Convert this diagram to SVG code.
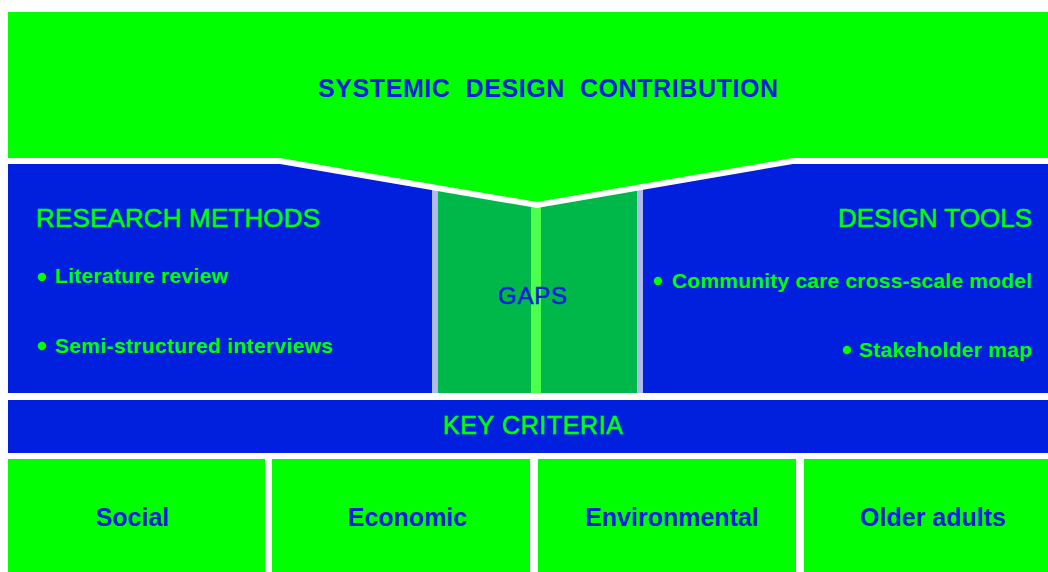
<svg xmlns="http://www.w3.org/2000/svg" width="1048" height="572" viewBox="0 0 1048 572">
  <style>
    .g { fill: #00ff00; }
    .b { fill: #0020dd; }
    .gap { fill: #00b84a; }
    .lav { fill: #b0b8f0; }
    .strip { fill: #4cff4c; }
    .dot { fill: #00ff00; }
    text { font-family: "Liberation Sans", Arial, sans-serif; }
    .tb { fill: #0a22d8; font-weight: bold; }
    .tg { fill: #00ff00; }
    .med { stroke-width: 0.5; }
    .tg.med { stroke: #00ff00; }
    .h { font-size: 26px; }
    .li { font-size: 21px; font-weight: bold; }
  </style>
  <rect x="0" y="0" width="1048" height="572" fill="#ffffff"/>

  <g id="middle-band">
    <rect class="b" x="8" y="158" width="424" height="235"/>
    <rect class="b" x="643" y="158" width="405" height="235"/>
  </g>

  <g id="gaps">
    <rect class="lav" x="432" y="170" width="6" height="223"/>
    <rect class="gap" x="438" y="170" width="93" height="223"/>
    <rect class="strip" x="531" y="195" width="10" height="198"/>
    <rect class="gap" x="541" y="170" width="96" height="223"/>
    <rect class="lav" x="637" y="170" width="6" height="223"/>
    <text x="532.5" y="304" font-size="24" text-anchor="middle" fill="#0a22d8" stroke="#0a22d8" stroke-width="0.6" textLength="69" lengthAdjust="spacing">GAPS</text>
  </g>

  <g id="contribution">
    <polygon fill="#ffffff" points="8,18 1048,18 1048,164 793,164 537,208 280,164 8,164"/>
    <polygon class="g" points="8,12 1048,12 1048,158 793,158 537,202 280,158 8,158"/>
    <text class="tb" x="548" y="97" font-size="25" text-anchor="middle" xml:space="preserve" style="white-space:pre" textLength="460" lengthAdjust="spacing">SYSTEMIC  DESIGN  CONTRIBUTION</text>
  </g>

  <g id="research-methods">
    <text class="tg h med" x="36" y="227" textLength="284" lengthAdjust="spacing">RESEARCH METHODS</text>
    <circle class="dot" cx="42" cy="277" r="4.2"/>
    <text class="tg li" x="55" y="283" textLength="173" lengthAdjust="spacing">Literature review</text>
    <circle class="dot" cx="42" cy="346" r="4.2"/>
    <text class="tg li" x="55" y="353" textLength="278" lengthAdjust="spacing">Semi-structured interviews</text>
  </g>

  <g id="design-tools">
    <text class="tg h med" x="1032" y="227" text-anchor="end">DESIGN TOOLS</text>
    <circle class="dot" cx="658" cy="281" r="4.2"/>
    <text class="tg li" x="672" y="288" textLength="360" lengthAdjust="spacing">Community care cross-scale model</text>
    <circle class="dot" cx="847" cy="350" r="4.2"/>
    <text class="tg li" x="859" y="357" textLength="173" lengthAdjust="spacing">Stakeholder map</text>
  </g>

  <g id="key-criteria">
    <rect class="b" x="8" y="400" width="1040" height="53"/>
    <text class="tg med" x="533" y="434" font-size="25" text-anchor="middle" textLength="180" lengthAdjust="spacing">KEY CRITERIA</text>
  </g>

  <g id="social">
    <rect class="g" x="8" y="459" width="257" height="113"/>
    <text class="tb" x="132.5" y="526" font-size="25" text-anchor="middle">Social</text>
  </g>
  <g id="economic">
    <rect class="g" x="272" y="459" width="258" height="113"/>
    <text class="tb" x="407.5" y="526" font-size="25" text-anchor="middle">Economic</text>
  </g>
  <g id="environmental">
    <rect class="g" x="538" y="459" width="258" height="113"/>
    <text class="tb" x="672" y="526" font-size="25" text-anchor="middle">Environmental</text>
  </g>
  <g id="older-adults">
    <rect class="g" x="804" y="459" width="244" height="113"/>
    <text class="tb" x="933" y="526" font-size="25" text-anchor="middle">Older adults</text>
  </g>

  <g id="connectors"></g>
</svg>
